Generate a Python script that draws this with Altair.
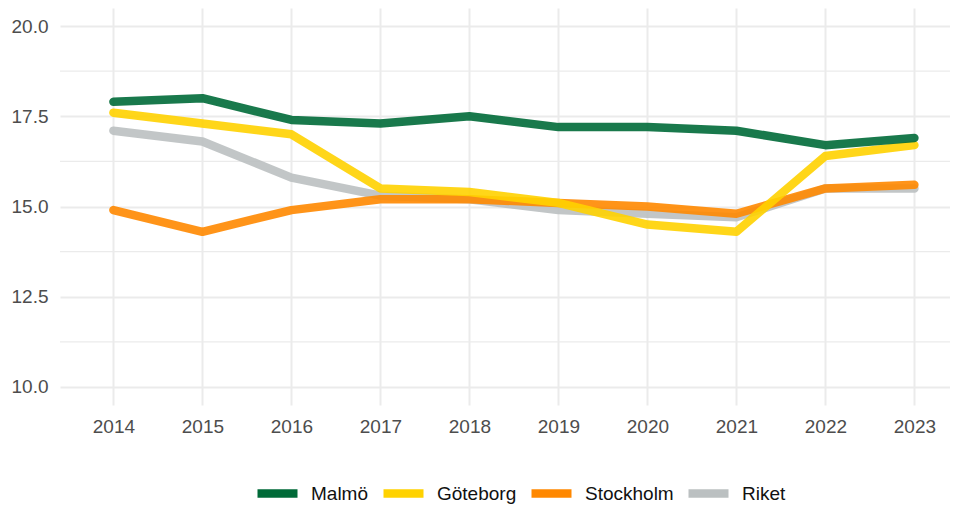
import altair as alt
import pandas as pd

years = list(range(2014, 2024))
malmo = [17.9, 18.0, 17.4, 17.3, 17.5, 17.2, 17.2, 17.1, 16.7, 16.9]
goteborg = [17.6, 17.3, 17.0, 15.5, 15.4, 15.1, 14.5, 14.3, 16.4, 16.7]
stockholm = [14.9, 14.3, 14.9, 15.2, 15.2, 15.1, 15.0, 14.8, 15.5, 15.6]
riket = [17.1, 16.8, 15.8, 15.3, 15.2, 14.9, 14.8, 14.7, 15.5, 15.5]

series_names = ["Malmö", "Göteborg", "Stockholm", "Riket"]
series_colors = ["#006a38", "#ffd200", "#ff8800", "#bbc0c1"]
y_ticks = [10.0, 12.5, 15.0, 17.5, 20.0]
y_minor = [11.25, 13.75, 16.25, 18.75]

rows = []
for name, vals in zip(series_names, [malmo, goteborg, stockholm, riket]):
    for yr, v in zip(years, vals):
        rows.append({"year": yr, "value": v, "series": name})
df = pd.DataFrame(rows)
minor_df = pd.DataFrame({"y": y_minor})

FONT = "Liberation Sans"

x_enc = alt.X(
    "year:Q",
    scale=alt.Scale(domain=[2013.4, 2023.4], nice=False, zero=False),
    axis=alt.Axis(values=years, format="d", title=None, grid=True,
                  labelPadding=12),
)
y_enc = alt.Y(
    "value:Q",
    scale=alt.Scale(domain=[9.5, 20.5], nice=False, zero=False),
    axis=alt.Axis(values=y_ticks, format=".1f", title=None, grid=True,
                  labelPadding=12),
)
color_enc = alt.Color(
    "series:N",
    scale=alt.Scale(domain=series_names, range=series_colors),
    legend=alt.Legend(
        title=None,
        orient="none",
        direction="horizontal",
        legendX=193,
        legendY=461,
        gridAlign="none",
        symbolType="stroke",
        symbolStrokeWidth=8.5,
        symbolSize=1600,
        symbolOpacity=1,
        labelFontSize=19,
        labelFont=FONT,
        labelColor="#111111",
        labelOffset=9,
        columnPadding=-3,
    ),
)

minor = alt.Chart(minor_df).mark_rule(color="#ebebeb", strokeWidth=1.3).encode(
    y=alt.Y("y:Q", scale=alt.Scale(domain=[9.5, 20.5], nice=False, zero=False))
)

layers = [minor]
for name in ["Riket", "Stockholm", "Göteborg", "Malmö"]:
    layers.append(
        alt.Chart(df)
        .transform_filter(alt.datum.series == name)
        .mark_line(strokeWidth=8.5, strokeCap="round", strokeJoin="round",
                   opacity=0.9)
        .encode(x=x_enc, y=y_enc, color=color_enc)
    )

chart = (
    alt.layer(*layers)
    .properties(
        width=890,
        height=397,
        padding={"left": 52, "top": 0, "right": 0, "bottom": 100},
        autosize=alt.AutoSizeParams(type="none"),
        background="white",
    )
    .configure_view(stroke=None)
    .configure_axis(
        labelFont=FONT,
        labelFontSize=19,
        labelColor="#4d4d4d",
        domain=False,
        ticks=False,
        tickSize=0,
        gridColor="#ebebeb",
        gridWidth=2,
    )
)

chart.save("out.html", embed_options={"renderer": "svg", "actions": False})
